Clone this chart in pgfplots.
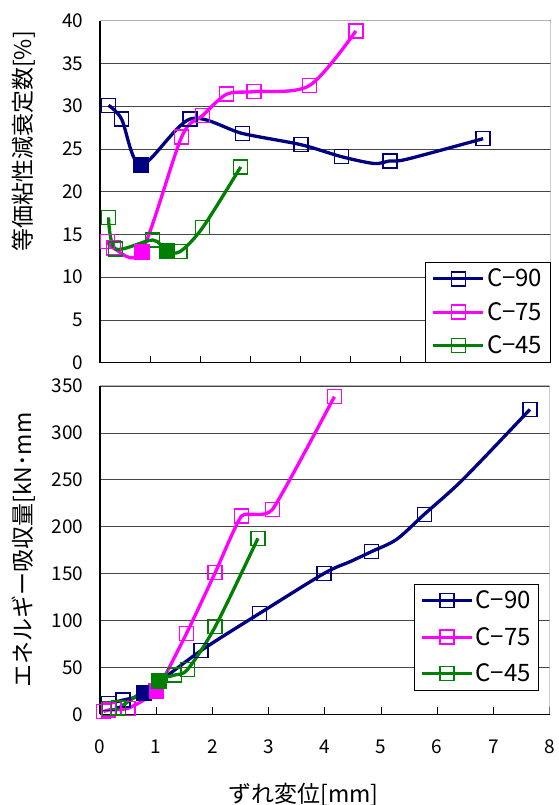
\documentclass[border=0pt]{standalone}
\usepackage{fontspec}
\setmainfont{Noto Sans CJK JP}
\usepackage{pgfplots}
\pgfplotsset{compat=1.18}
\definecolor{cnavy}{RGB}{0,0,128}
\definecolor{cmag}{RGB}{255,0,255}
\definecolor{cgreen}{RGB}{0,128,0}
\definecolor{gridc}{RGB}{70,70,70}
\pgfplotsset{
  mystyle/.style={
    scale only axis,
    xmin=0, ymin=0,
    axis x line*=bottom, axis y line*=left,
    axis line style={black, line width=1.3pt, -},
    ymajorgrids, grid style={gridc, line width=0.7pt},
    tick align=inside,
    major tick length=7pt,
    ytick style={draw=none},
    xtick style={black, line width=0.8pt},
    tick label style={font=\fontsize{19}{19}\selectfont},
    /pgf/number format/assume math mode=true,
    xticklabel style={yshift=-22pt},
    yticklabel style={xshift=-13pt},
    label style={font=\fontsize{23}{23}\selectfont},
    legend style={font=\fontsize{24}{24}\selectfont, draw=black, line width=0.8pt,
      inner xsep=6pt, inner ysep=5pt},
    legend cell align=left,
    legend image code/.code={%
      \draw[#1, mark=none] (0pt,0pt) -- (50pt,0pt);
      \draw[#1] plot coordinates {(25pt,0pt)};},
  }
}
\tikzset{
  pl/.style={#1, line width=3.3pt, mark size=7pt, mark options={solid, line width=1.5pt}},
  fm/.style={#1, only marks, mark=square*, mark size=7.3pt, mark options={solid, line width=0.5pt}},
}
\begin{document}
\begin{tikzpicture}
\path[use as bounding box] (0,0) rectangle (558pt,805pt);
% ---------------- top -----------------
\begin{axis}[mystyle, at={(100pt,442.3pt)}, anchor=south west,
  width=450.7pt, height=342pt, xmax=9, ymax=40,
  xtick={1,2,3,4,5,6,7,8}, xticklabels={},
  ytick={0,5,...,40},
  ylabel={等価粘性減衰定数[\%]},
  y label style={at={(axis description cs:-0.169,0.647)}, anchor=center},
  legend style={at={(1,0)}, anchor=south east, row sep=10pt}]
\addlegendimage{pl=cnavy, mark=square}
\addlegendentry{C−90}
\addlegendimage{pl=cmag, mark=square}
\addlegendentry{C−75}
\addlegendimage{pl=cgreen, mark=square}
\addlegendentry{C−45}
\addplot[pl=cnavy, smooth, mark=square, mark indices={1,2,3,4,5,6,7,9,11}, forget plot] coordinates {
(0.17,30.1) (0.43,28.5) (0.82,23.1) (1.8,28.5) (2.85,26.8) (4.01,25.5) (4.82,24.1) (5.47,23.3) (5.79,23.6) (6.13,23.8) (7.65,26.2)};
\addplot[pl=cmag, smooth, mark=square, forget plot] coordinates {
(0.15,14.2) (0.27,13.4) (0.83,13.0) (1.63,26.4) (2.05,28.9) (2.53,31.4) (3.08,31.7) (4.18,32.4) (5.11,38.8)};
\addplot[pl=cgreen, smooth, mark=square, forget plot] coordinates {
(0.17,17.0) (0.31,13.3) (1.05,14.35) (1.33,13.1) (1.6,13.0) (2.05,15.8) (2.81,22.9)};
\addplot[fm=cnavy, forget plot] coordinates {(0.82,23.1)};
\addplot[fm=cmag, forget plot] coordinates {(0.83,13.0)};
\addplot[fm=cgreen, forget plot] coordinates {(1.33,13.1)};
\draw[gray!60, line width=1pt] (rel axis cs:0,1) -- (rel axis cs:1,1) -- (rel axis cs:1,0);
\end{axis}
% ---------------- bottom -----------------
\begin{axis}[mystyle, at={(100pt,90.7pt)}, anchor=south west,
  width=449.6pt, height=328.3pt, xmax=8, ymax=350,
  xtick={0,1,...,8},
  ytick={0,50,...,350},
  ylabel={エネルギー吸収量[kN･mm},
  y label style={at={(axis description cs:-0.169,0.5)}, anchor=center},
  xlabel={ずれ変位[mm]},
  x label style={at={(axis description cs:0.453,-0.246)}, anchor=center},
  legend style={at={(0.977,0.072)}, anchor=south east, row sep=13pt}]
\addlegendimage{pl=cnavy, mark=square}
\addlegendentry{C−90}
\addlegendimage{pl=cmag, mark=square}
\addlegendentry{C−75}
\addlegendimage{pl=cgreen, mark=square}
\addlegendentry{C−45}
\addplot[pl=cnavy, smooth, mark=square, mark indices={1,2,3,4,5,6,8,10,12}, forget plot] coordinates {
(0.15,11.7) (0.41,15.2) (0.78,23) (1.8,68) (2.84,107.6) (3.99,150.3) (4.45,162.7) (4.83,173.4) (5.28,186.6) (5.77,213.2) (6.46,250.5) (7.65,325)};
\addplot[pl=cmag, smooth, tension=0.3, mark=square, forget plot] coordinates {
(0.06,2.8) (0.15,4.6) (0.5,6.4) (1.0,25) (1.54,86.3) (2.05,151) (2.52,211.4) (3.07,218.5) (4.17,338.6)};
\addplot[pl=cgreen, smooth, mark=square, forget plot] coordinates {
(0.17,6.4) (0.33,6.8) (1.05,36) (1.33,41.9) (1.56,48) (2.05,93.4) (2.81,187.6)};
\addplot[fm=cnavy, forget plot] coordinates {(0.78,23)};
\addplot[fm=cmag, forget plot] coordinates {(1.0,25)};
\addplot[fm=cgreen, forget plot] coordinates {(1.05,36)};
\draw[gray!60, line width=1pt] (rel axis cs:0,1) -- (rel axis cs:1,1) -- (rel axis cs:1,0);
\end{axis}
\end{tikzpicture}
\end{document}
